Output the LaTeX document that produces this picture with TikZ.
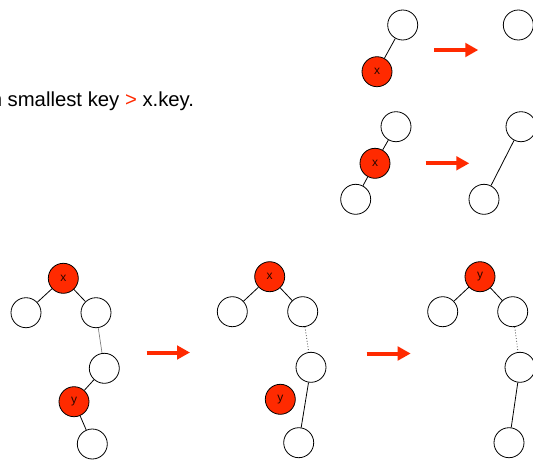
\documentclass[tikz,border=0pt]{standalone}
\usepackage{fontspec}
\setmainfont{Liberation Sans}
\usetikzlibrary{arrows.meta}
\definecolor{kred}{HTML}{FF2A00}
\tikzset{
  wnode/.style={circle, draw=black, line width=0.8pt, fill=white, minimum size=30pt, inner sep=0pt},
  rnode/.style={wnode, fill=kred, font=\fontsize{12}{13}\selectfont, text=black!85!kred},
  edge/.style={draw=black, line width=0.8pt},
  dotedge/.style={draw=black!75, line width=0.8pt, dotted},
  grayedge/.style={draw=black!50, line width=0.7pt},
  bigarrow/.style={draw=kred, line width=4pt, -{Triangle[length=13pt,width=13.5pt]}},
}
\begin{document}
\begin{tikzpicture}[x=1pt,y=-1pt]
\useasboundingbox (0,0) rectangle (533,461);
\clip (0,0) rectangle (533,461);
\fill[white] (0,0) rectangle (533,461);

% text
\node[anchor=base west, inner sep=0pt, font=\fontsize{20.3}{23}\selectfont] (txt) at (7.5,106.7)
  {\llap{with }smallest key \textcolor{kred}{>} x.key.};

% top-right case 1
\node[wnode] (a1) at (402.7,25) {};
\node[rnode] (a2) at (377,71.7) {x};
\draw[edge] (a1) -- (a2);
\coordinate (ar1s) at (434.3,50);
\coordinate (ar1e) at (478.3,50);
\draw[bigarrow] (ar1s) -- (ar1e);
\node[wnode] (a3) at (518.3,25) {};

% case 2
\node[wnode] (b1) at (396,126.7) {};
\node[rnode] (b2) at (375,163.3) {x};
\node[wnode] (b3) at (355.7,199.3) {};
\draw[edge] (b1) -- (b2);
\draw[edge] (b2) -- (b3);
\coordinate (ar2s) at (425.7,163.3);
\coordinate (ar2e) at (469.3,163.3);
\draw[bigarrow] (ar2s) -- (ar2e);
\node[wnode] (b4) at (521,126.7) {};
\node[wnode] (b5) at (484,199.3) {};
\draw[edge] (b4) -- (b5);

% tree 1
\node[rnode] (c1) at (63.3,278.3) {x};
\node[wnode] (c2) at (26,312.7) {};
\node[wnode] (c3) at (96,312.7) {};
\node[wnode] (c4) at (104.3,368.3) {};
\node[rnode] (c5) at (74,401.7) {y};
\node[wnode] (c6) at (92.3,444) {};
\draw[edge] (c1) -- (c2);
\draw[edge] (c1) -- (c3);
\draw[grayedge] (c3) -- (c4);
\draw[edge] (c4) -- (c5);
\draw[edge] (c5) -- (c6);
\coordinate (ar3s) at (146.5,352.5);
\coordinate (ar3e) at (190,352.5);
\draw[bigarrow] (ar3s) -- (ar3e);

% tree 2
\node[rnode] (d1) at (269.7,276.7) {x};
\node[wnode] (d2) at (232.3,311.7) {};
\node[wnode] (d3) at (302.7,311.7) {};
\node[wnode] (d4) at (311,367.3) {};
\node[rnode] (d5) at (280.3,399.3) {y};
\node[wnode] (d6) at (298.7,442.7) {};
\draw[edge] (d1) -- (d2);
\draw[edge] (d1) -- (d3);
\draw[dotedge] (d3) -- (d4);
\draw[edge] (d4) -- (d6);
\coordinate (ar4s) at (366.7,353.5);
\coordinate (ar4e) at (410.7,353.5);
\draw[bigarrow] (ar4s) -- (ar4e);

% tree 3
\node[rnode] (e1) at (480,276.7) {y};
\node[wnode] (e2) at (442.7,311.7) {};
\node[wnode] (e3) at (512.7,311.7) {};
\node[wnode] (e4) at (520,367.3) {};
\node[wnode] (e6) at (509,442.7) {};
\draw[edge] (e1) -- (e2);
\draw[edge] (e1) -- (e3);
\draw[dotedge] (e3) -- (e4);
\draw[edge] (e4) -- (e6);
\end{tikzpicture}
\end{document}
